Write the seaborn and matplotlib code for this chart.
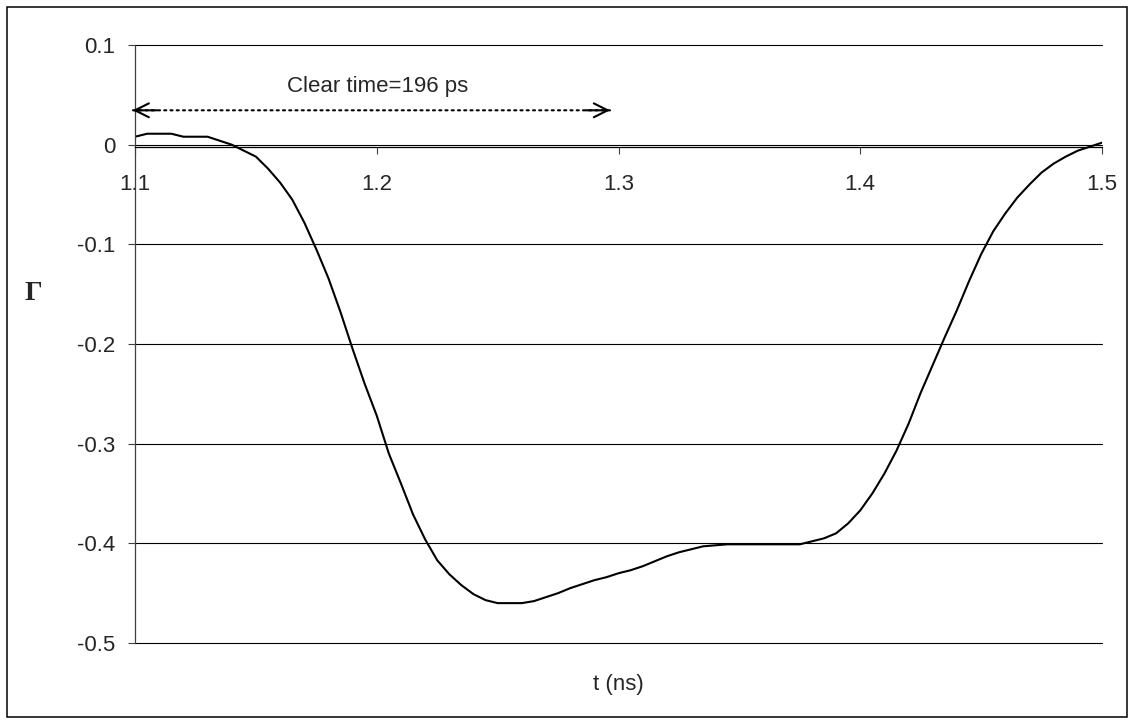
import numpy as np
import pandas as pd
import seaborn as sns
import matplotlib.pyplot as plt
from matplotlib.patches import Rectangle

# Datos (t en ns, coeficiente de reflexion)
t_ns = [1.100, 1.105, 1.110, 1.115, 1.120, 1.125, 1.130, 1.135, 1.140, 1.145,
        1.150, 1.155, 1.160, 1.165, 1.170, 1.175, 1.180, 1.185, 1.190, 1.195,
        1.200, 1.205, 1.210, 1.215, 1.220, 1.225, 1.230, 1.235, 1.240, 1.245,
        1.250, 1.255, 1.260, 1.265, 1.270, 1.275, 1.280, 1.285, 1.290, 1.295,
        1.300, 1.305, 1.310, 1.315, 1.320, 1.325, 1.330, 1.335, 1.340, 1.345,
        1.350, 1.355, 1.360, 1.365, 1.370, 1.375, 1.380, 1.385, 1.390, 1.395,
        1.400, 1.405, 1.410, 1.415, 1.420, 1.425, 1.430, 1.435, 1.440, 1.445,
        1.450, 1.455, 1.460, 1.465, 1.470, 1.475, 1.480, 1.485, 1.490, 1.495,
        1.500]
gamma = [0.008, 0.011, 0.011, 0.011, 0.008, 0.008, 0.008, 0.004, 0.000, -0.006,
         -0.012, -0.024, -0.038, -0.055, -0.078, -0.105, -0.134, -0.168, -0.205, -0.240,
         -0.272, -0.310, -0.340, -0.371, -0.396, -0.417, -0.431, -0.442, -0.451, -0.457,
         -0.460, -0.460, -0.460, -0.458, -0.454, -0.450, -0.445, -0.441, -0.437, -0.434,
         -0.430, -0.427, -0.423, -0.418, -0.413, -0.409, -0.406, -0.403, -0.402, -0.401,
         -0.401, -0.401, -0.401, -0.401, -0.401, -0.401, -0.398, -0.395, -0.390, -0.380,
         -0.367, -0.350, -0.330, -0.307, -0.280, -0.249, -0.221, -0.193, -0.166, -0.137,
         -0.110, -0.087, -0.069, -0.053, -0.040, -0.028, -0.019, -0.012, -0.006, -0.002,
         0.002]

x_ticks = [1.1, 1.2, 1.3, 1.4, 1.5]
y_ticks = [0.1, 0, -0.1, -0.2, -0.3, -0.4, -0.5]
y_ticklabels = ['0.1', '0', '-0.1', '-0.2', '-0.3', '-0.4', '-0.5']

# Flecha del "clear time"
clear_start, clear_end, clear_y = 1.099, 1.2965, 0.0345
clear_label = 'Clear time=196 ps'

df = pd.DataFrame({'t': t_ns, 'gamma': gamma})

sns.set_theme(style='white')
plt.rcParams['font.family'] = ['Liberation Sans', 'DejaVu Sans']

fig = plt.figure(figsize=(11.33, 7.24), dpi=100)
ax = fig.add_axes([0.1192, 0.1119, 0.8534, 0.8259])

sns.lineplot(data=df, x='t', y='gamma', ax=ax, color='black', linewidth=1.5)

ax.set_xlim(1.1, 1.5)
ax.set_ylim(-0.5, 0.1)
ax.set_xticks(x_ticks)
ax.set_xticklabels([str(v) for v in x_ticks])
ax.set_yticks(y_ticks)
ax.set_yticklabels(y_ticklabels)

# Rejilla horizontal estilo Excel
ax.yaxis.grid(True, color='black', linewidth=0.8)
ax.xaxis.grid(False)
ax.set_axisbelow(True)
for gl in ax.get_ygridlines():
    gl.set_clip_on(False)

for s in ['top', 'right']:
    ax.spines[s].set_visible(False)
ax.spines['left'].set_color('#404040')
ax.spines['left'].set_linewidth(0.9)
ax.spines['bottom'].set_position(('data', -0.0028))
ax.spines['bottom'].set_color('black')
ax.spines['bottom'].set_linewidth(0.9)

ax.tick_params(axis='y', direction='out', length=5, width=0.8, color='#404040',
               pad=9, labelsize=16, left=True)
ax.tick_params(axis='x', direction='out', length=5, width=0.8, color='#404040',
               pad=14, labelsize=16, bottom=True)

ax.set_xlabel('t (ns)', fontsize=16, va='center')
ax.xaxis.set_label_coords(0.5, -0.07)
ax.set_ylabel('\u0393', fontsize=20, fontweight='bold', rotation=0,
              va='center', ha='center', family=['Liberation Serif', 'DejaVu Serif'])
ax.yaxis.set_label_coords(-0.1055, 0.585)

# Flecha punteada con puntas solidas
ax.annotate('', xy=(clear_start, clear_y), xytext=(clear_end, clear_y),
            annotation_clip=False,
            arrowprops=dict(arrowstyle='-', linestyle=(0, (1, 2)), linewidth=1.5,
                            color='black', shrinkA=0, shrinkB=0))
for tip, tail in [(clear_start, clear_start + 0.01), (clear_end, clear_end - 0.01)]:
    ax.annotate('', xy=(tip, clear_y), xytext=(tail, clear_y),
                annotation_clip=False,
                arrowprops=dict(arrowstyle='->, head_length=0.5, head_width=0.25',
                                mutation_scale=20, linewidth=1.5, color='black',
                                linestyle='-', shrinkA=0, shrinkB=0))
ax.text(1.2003, 0.058, clear_label, ha='center', va='center', fontsize=16)

# Borde exterior del grafico
fig.patches.append(Rectangle((7 / 1133, 7 / 724), 1120 / 1133, 710 / 724,
                             transform=fig.transFigure, fill=False,
                             edgecolor='black', linewidth=1.1))

fig.savefig('out.png', dpi=100)
